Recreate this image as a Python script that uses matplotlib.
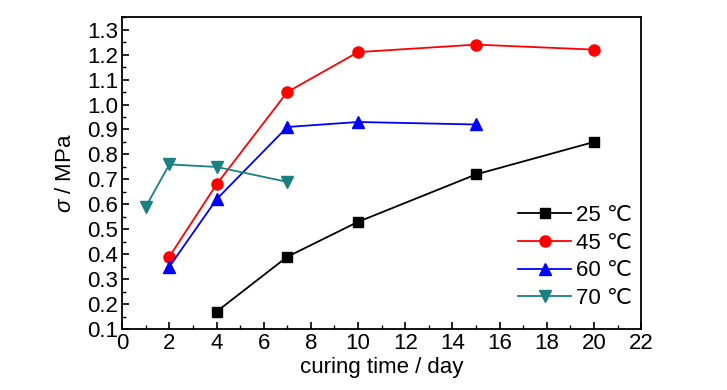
'''curing time vs strength for four curing temperatures'''

import matplotlib
matplotlib.use('Agg')
import matplotlib.pyplot as plt
from matplotlib import font_manager
from matplotlib.ticker import MultipleLocator

names = set(f.name for f in font_manager.fontManager.ttflist)
main_font = 'Liberation Sans Narrow' if 'Liberation Sans Narrow' in names else 'Liberation Sans'
plt.rcParams['font.family'] = [main_font, 'DejaVu Sans']
plt.rcParams['mathtext.fontset'] = 'custom'
plt.rcParams['mathtext.it'] = main_font + ':italic'
plt.rcParams['mathtext.rm'] = main_font

# data
days_25 = [4, 7, 10, 15, 20]
sigma_25 = [0.17, 0.39, 0.53, 0.72, 0.85]
days_45 = [2, 4, 7, 10, 15, 20]
sigma_45 = [0.39, 0.68, 1.05, 1.21, 1.24, 1.22]
days_60 = [2, 4, 7, 10, 15]
sigma_60 = [0.35, 0.62, 0.91, 0.93, 0.92]
days_70 = [1, 2, 4, 7]
sigma_70 = [0.59, 0.76, 0.75, 0.69]

labels = ['25 \u2103', '45 \u2103', '60 \u2103', '70 \u2103']

fig = plt.figure(figsize=(7.27, 3.9), dpi=100)
ax = fig.add_axes([0.168, 0.156, 0.714, 0.8])

ax.plot(days_25, sigma_25, color='black', marker='s', ms=7, lw=1.3, label=labels[0])
ax.plot(days_45, sigma_45, color='#ff0000', marker='o', ms=8, lw=1.3, label=labels[1])
ax.plot(days_60, sigma_60, color='#0000ff', marker='^', ms=8, lw=1.3, label=labels[2])
ax.plot(days_70, sigma_70, color='#1a8080', marker='v', ms=8, lw=1.3, label=labels[3])

ax.set_xlim(0, 22)
ax.set_ylim(0.1, 1.35)
ax.xaxis.set_major_locator(MultipleLocator(2))
ax.xaxis.set_minor_locator(MultipleLocator(1))
ax.yaxis.set_major_locator(MultipleLocator(0.1))
ax.yaxis.set_minor_locator(MultipleLocator(0.05))
ax.tick_params(which='both', direction='in', labelsize=16, top=False, right=False, pad=3)
ax.tick_params(which='major', length=5, width=1.2)
ax.tick_params(which='minor', length=3, width=1)
for s in ax.spines.values():
    s.set_linewidth(1.3)

ax.set_xlabel('curing time / day', fontsize=16, labelpad=2)
ax.set_ylabel(r'$\sigma$ / MPa', fontsize=16, labelpad=8)

leg = ax.legend(loc='lower right', frameon=False, fontsize=16, handlelength=2.4,
                handletextpad=0.2, labelspacing=0.3, bbox_to_anchor=(1.02, 0.0))

plt.savefig('out.png', dpi=100)
